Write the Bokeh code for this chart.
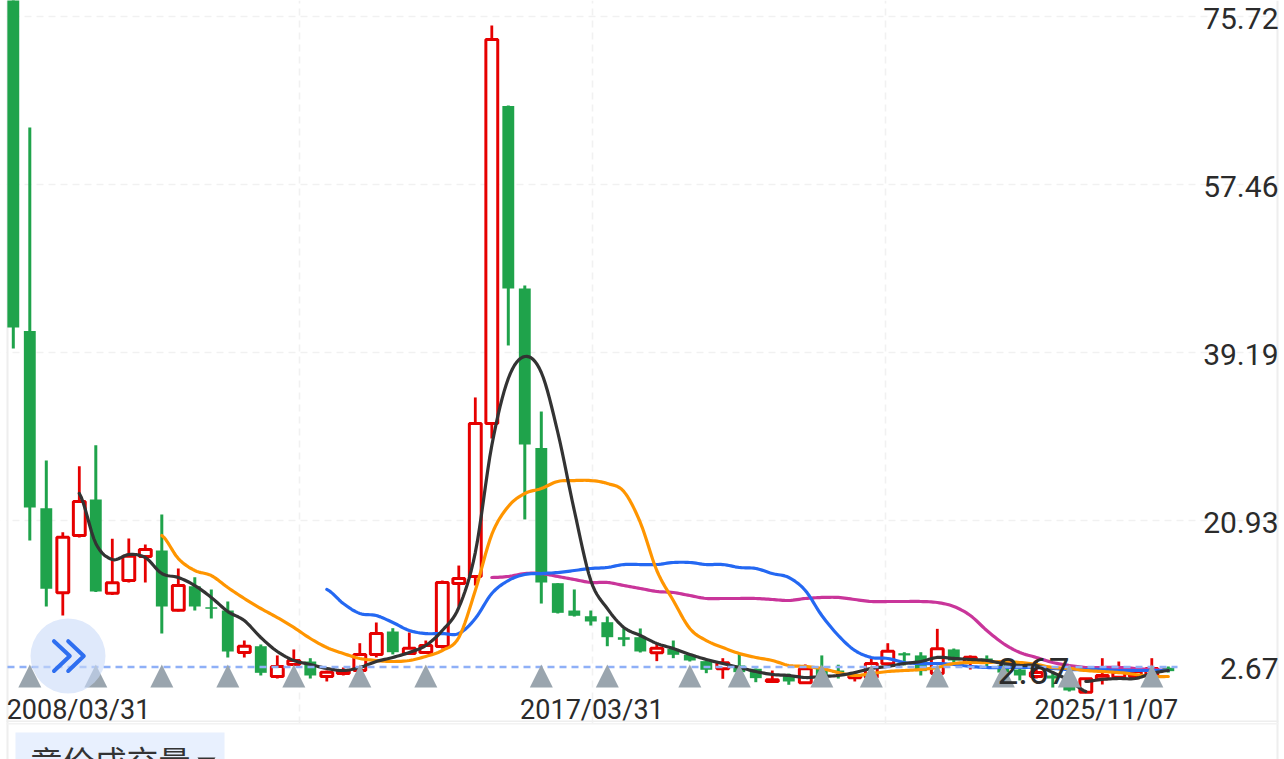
import numpy as np
from bokeh.plotting import figure
from bokeh.models import ColumnDataSource, LinearAxis, FixedTicker, Grid
from bokeh.core.properties import value
from bokeh.embed import file_html
from bokeh.resources import INLINE

# ---- data (price units, one entry per candle) ----
high = [84.0,63.60,27.41,19.62,26.79,29.07,18.90,18.93,18.28,21.54,15.67,14.72,13.39,12.08,7.84,7.41,6.22,6.87,5.92,4.58,4.91,7.55,9.80,9.18,8.71,7.84,14.36,15.99,34.26,74.69,65.99,46.43,32.73,14.07,13.39,11.10,10.45,9.15,9.15,7.55,7.84,6.40,5.67,5.92,6.46,4.80,4.58,4.25,5.24,6.22,5.21,4.40,5.89,7.55,6.57,6.57,9.11,6.97,6.22,6.22,5.67,5.02,5.67,4.47,4.04,3.71,5.92,5.56,4.58,5.92,5.02]
low = [39.58,18.71,11.54,10.56,19.04,13.12,12.79,14.15,14.15,8.60,11.00,11.10,10.23,6.00,6.00,4.04,3.71,5.13,3.71,3.39,4.04,4.47,6.00,6.33,6.33,6.43,6.97,11.54,13.82,29.80,39.91,21.00,11.86,10.78,10.45,9.47,7.22,7.22,6.54,5.60,5.92,5.56,4.29,3.68,4.36,3.31,3.33,3.03,3.17,3.39,3.71,3.39,3.50,5.13,5.13,4.04,4.04,5.45,4.69,5.02,3.71,3.50,3.71,2.73,2.30,2.19,3.06,3.82,3.82,3.71,4.36]
body_open = [80.0,41.48,22.22,13.03,19.26,23.17,12.98,14.36,16.97,17.62,11.12,13.75,11.46,11.10,6.54,7.22,3.93,5.24,5.56,3.93,4.25,4.58,6.33,8.82,6.43,6.54,7.19,14.04,14.80,31.43,65.94,46.10,28.76,14.07,11.10,10.48,9.83,8.20,8.20,6.51,6.94,6.29,5.60,4.77,5.13,4.77,3.39,4.04,3.25,4.80,4.58,3.79,3.82,5.31,6.46,6.22,4.25,6.87,5.48,5.89,5.13,4.69,3.93,4.04,2.84,2.22,3.68,3.85,3.93,4.04,4.88]
body_close = [41.86,22.30,13.46,19.07,22.95,13.17,14.11,17.00,17.73,11.54,13.82,11.54,11.29,6.65,7.22,4.33,5.02,5.67,4.04,4.40,4.58,6.33,8.60,6.57,7.01,7.30,14.15,14.58,31.43,73.17,46.10,29.15,14.15,10.85,10.53,9.91,8.20,7.92,6.65,7.01,6.29,5.67,4.66,5.42,4.40,3.75,3.57,3.39,4.77,3.50,4.33,4.04,5.34,6.68,6.22,4.51,6.94,5.67,6.03,5.34,4.36,4.04,4.36,3.71,2.41,3.68,4.04,4.40,4.47,4.80,4.51]

ma_black_start = 4
ma_black = [23.82,18.39,16.65,17.19,16.86,15.12,14.69,13.82,12.52,10.99,10.01,8.17,6.65,5.67,5.24,4.80,4.58,4.91,5.56,6.00,6.54,7.30,8.93,11.43,17.40,29.04,36.32,38.71,36.97,30.45,21.97,14.36,11.32,9.26,8.39,7.52,6.97,6.33,5.78,5.34,4.91,4.47,4.15,4.04,3.82,3.93,4.04,4.36,4.80,5.02,5.34,5.56,6.00,5.89,5.78,5.67,5.34,5.13,5.13,4.36,3.50,2.30]
ma_black_tail_start = 65
ma_black_tail = [3.39,3.61,3.71,3.71,4.25,4.58]
ma_orange_start = 9
ma_orange = [19.26,16.75,15.45,14.90,13.60,12.41,11.32,10.34,9.26,8.06,7.08,6.43,5.89,5.67,5.56,5.67,6.11,6.76,8.17,13.28,19.37,22.41,23.82,24.36,25.13,25.23,25.23,24.91,24.04,20.67,15.45,12.19,9.15,7.84,7.08,6.43,6.00,5.67,5.13,5.02,4.80,4.36,4.04,4.25,4.47,4.58,4.69,4.91,5.34,5.45,5.45,5.56,5.45,5.24,4.91,4.80,4.58,4.47,4.36,4.15,3.93,3.93]
ma_blue_start = 19
ma_blue = [13.39,11.86,10.78,10.56,9.80,8.93,8.60,8.60,8.60,10.23,12.95,14.36,15.02,15.12,15.23,15.45,15.67,15.78,16.10,16.10,16.10,16.32,16.32,16.10,16.10,15.78,15.67,15.12,14.69,13.28,10.56,8.39,6.76,6.00,5.89,5.45,5.34,5.34,5.24,5.02,4.91,4.91,4.91,4.91,4.80,4.69,4.69,4.69,4.58,4.58,4.58,4.58]
ma_magenta_start = 29
ma_magenta = [14.69,14.80,15.12,15.12,14.80,14.47,14.15,14.15,13.82,13.50,13.17,13.06,12.73,12.41,12.41,12.41,12.41,12.30,12.19,12.41,12.52,12.52,12.30,12.08,12.08,12.08,12.08,11.97,11.54,10.56,8.93,7.52,6.54,6.00,5.45,5.13,4.91,4.91,4.91,4.80,4.69,4.58]

event_candles = [1,5,9,13,17,21,25,32,36,41,44,49,52,56,60,64,69]
event_low, event_high = 2.73, 5.24

grid_prices = [75.72,57.46,39.19,20.93]
price_label_ticks = [75.5,57.24,38.97,20.71,4.75]
price_labels = ["75.72","57.46","39.19","20.93","2.67"]
grid_candles = [17.32,35.1,52.87]
date_ticks = [3.95,35.07,66.25]
date_labels = ["2008/03/31","2017/03/31","2025/11/07"]
last_price_level = 4.97
last_price_text = "2.67"
panel_title = "竟价成交量"

# ---- page geometry: page pixel <-> data ----
W, H = 1284, 759
PX0, PXSTEP = 12.8, 16.5
PYSCALE = 18.26 / 168.0
def X(px): return (px - PX0) / PXSTEP
def Y(py): return 75.72 - (py - 15.5) * PYSCALE

RED, GREEN = "#e60000", "#1fa34b"
up = [c >= o for o, c in zip(body_open, body_close)]
idx = list(range(len(high)))

def smooth(start, vals, n=8):
    """Draw a series as a smooth curve through its values (Catmull-Rom)."""
    v = np.array(vals, dtype=float)
    pts = np.concatenate(([v[0]], v, [v[-1]]))
    xs, ys = [], []
    for k in range(len(v) - 1):
        p0, p1, p2, p3 = pts[k:k + 4]
        for t in np.linspace(0, 1, n, endpoint=False):
            ys.append(0.5 * (2 * p1 + (p2 - p0) * t + (2 * p0 - 5 * p1 + 4 * p2 - p3) * t ** 2
                             + (3 * p1 - p0 - 3 * p2 + p3) * t ** 3))
            xs.append(start + k + t)
    xs.append(start + len(v) - 1)
    ys.append(v[-1])
    return xs, ys

p = figure(width=W, height=H, output_backend="svg", toolbar_location=None,
           x_range=(X(0), X(W)), y_range=(Y(H), Y(0)),
           x_axis_type=None, y_axis_type=None, min_border=0,
           outline_line_color=None, background_fill_color="white",
           border_fill_color="white")
p.styles = {"position": "absolute", "left": "0px", "top": "0px"}

for dim, ticks in ((0, grid_candles), (1, grid_prices)):
    p.add_layout(Grid(dimension=dim, ticker=FixedTicker(ticks=ticks),
                      grid_line_color="#f1f1f1", grid_line_width=1.6,
                      grid_line_dash="7 5"))

# page chrome
for px0, px1, py0, py1, col in [
    (0, W, 724, H, "white"), (0, 6, 0, H, "white"), (1278, W, 0, H, "white"),
    (6, 8, 0, H, "#eeeeee"), (1276, 1278, 0, H, "#eeeeee"),
    (6, 1278, 720, 721.5, "#eeeeee"), (6, 1278, 722.5, 724, "#f2f2f2"),
    (15, 224, 732, H, "#e8f0fe")]:
    p.quad(left=[X(px0)], right=[X(px1)], top=[Y(py0)], bottom=[Y(py1)],
           fill_color=col, line_color=None)

# candles
def sub(flag):
    ii = [i for i in idx if up[i] == flag]
    return ColumnDataSource(dict(x=ii, hi=[high[i] for i in ii], lo=[low[i] for i in ii],
                                 top=[max(body_open[i], body_close[i]) for i in ii],
                                 bot=[min(body_open[i], body_close[i]) for i in ii]))
g, r = sub(False), sub(True)
p.segment("x", "hi", "x", "lo", source=g, line_color=GREEN, line_width=3)
p.vbar("x", 0.72, "bot", "top", source=g, fill_color=GREEN, line_color=None)
p.segment("x", "hi", "x", "lo", source=r, line_color=RED, line_width=2.8)
p.vbar("x", 0.72, "bot", "top", source=r, fill_color="white", line_color=RED, line_width=3)

# moving averages
for start, vals, col in [(ma_magenta_start, ma_magenta, "#c9359a"),
                         (ma_blue_start, ma_blue, "#2468f2"),
                         (ma_orange_start, ma_orange, "#ff9500"),
                         (ma_black_start, ma_black, "#333333"),
                         (ma_black_tail_start, ma_black_tail, "#333333")]:
    xs, ys = smooth(start, vals)
    p.line(xs, ys, line_color=col, line_width=3.2, line_join="round", line_cap="round")

# last price line
p.line([X(7), X(1177)], [last_price_level] * 2, line_color="#8fb0f7",
       line_width=2.5, line_dash="7 5")

# event triangles
half = 11.5 / PXSTEP
p.patches([[i - half, i, i + half] for i in event_candles],
          [[event_low, event_high, event_low] for _ in event_candles],
          fill_color="#9aa5ae", line_color=None)

# floating button
p.scatter([X(67.5)], [Y(655.5)], size=75, marker="circle", fill_color="#cadaf8",
          fill_alpha=0.6, line_color=None)
p.multi_line([[X(53.5), X(69.3), X(53.5)], [X(67.7), X(83.3), X(67.7)]],
             [[Y(640.7), Y(655.5), Y(670.5)], [Y(640.7), Y(655.5), Y(670.5)]],
             line_color="#2f6ff0", line_width=4, line_join="round", line_cap="round")

# texts
p.text([X(1033)], [Y(670)], text=[last_price_text], text_font=value("Roboto"),
       text_font_size="37px", text_color="#2b2b2b", text_align="center",
       text_baseline="middle")
p.text([X(30)], [Y(759)], text=[panel_title], text_font=value("Noto Sans CJK SC"),
       text_font_size="32px", text_color="#333333", text_align="left",
       text_baseline="middle")
p.patches([[X(197), X(206), X(215)]], [[Y(757), Y(770), Y(757)]],
          fill_color="#333333", line_color=None)

def clean(ax, size):
    ax.axis_line_color = None
    ax.major_tick_line_color = None
    ax.minor_tick_line_color = None
    ax.major_label_text_font = "Roboto"
    ax.major_label_text_font_size = size
    ax.major_label_text_color = "#2b2b2b"
    ax.major_label_standoff = 0

ya = LinearAxis(fixed_location=X(1284), ticker=FixedTicker(ticks=price_label_ticks),
                major_label_overrides=dict(zip(price_label_ticks, price_labels)))
clean(ya, "30px")
p.add_layout(ya, "left")

xa = LinearAxis(fixed_location=Y(687), ticker=FixedTicker(ticks=date_ticks),
                major_label_overrides=dict(zip(date_ticks, date_labels)))
clean(xa, "27px")
p.add_layout(xa, "below")

open("out.html", "w").write(file_html(p, INLINE, title="chart"))
